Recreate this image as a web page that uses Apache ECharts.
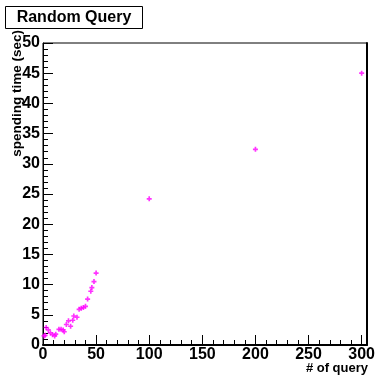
<!DOCTYPE html>
<html>
<head>
<meta charset="utf-8">
<script src="https://cdn.jsdelivr.net/npm/echarts@6/dist/echarts.min.js"></script>
<style>
    html, body { margin: 0; padding: 0; background: #fff; }
    #chart { width: 378px; height: 375px; }
</style>
</head>
<body>
<div id="chart"></div>
<script>
// 数据: 查询数 / 耗时(秒)
var queries = [1, 2, 3, 5, 7, 9, 11, 12, 15, 17, 19, 20, 22, 24, 26, 28, 29, 32, 34, 36, 38, 40, 42, 45, 46, 48, 50, 100, 200, 300];
var times = [1.5, 1.6, 2.9, 2.5, 2.0, 1.7, 1.5, 1.8, 2.6, 2.6, 2.5, 2.2, 3.4, 4.0, 3.1, 4.1, 4.8, 4.6, 5.9, 6.1, 6.2, 6.4, 7.6, 8.9, 9.5, 10.5, 11.9, 24.2, 32.4, 45.0];
var xTicks = [0, 50, 100, 150, 200, 250, 300];
var yTicks = [0, 5, 10, 15, 20, 25, 30, 35, 40, 45, 50];

var font = "'Liberation Sans', Arial, Helvetica, sans-serif";
var chart = echarts.init(document.getElementById('chart'), null, {renderer: 'canvas'});

var points = queries.map(function (q, i) {
    return [q, times[i]];
});

var plus = 'path://M-1,-3L1,-3L1,-1L3,-1L3,1L1,1L1,3L-1,3L-1,1L-3,1L-3,-1L-1,-1Z';

var option = {
    animation: false,
    backgroundColor: '#fff',
    grid: {
        left: 43, right: 10, top: 43, bottom: 30,
        show: true, borderColor: '#000', borderWidth: 1, backgroundColor: 'transparent'
    },
    xAxis: {
        type: 'value',
        min: 0,
        max: 305,
        interval: 50,
        axisLine: {show: true, lineStyle: {color: '#000', width: 2}},
        axisTick: {inside: true, length: 10, lineStyle: {color: '#000', width: 1}},
        minorTick: {show: true, splitNumber: 5, length: 5, lineStyle: {color: '#000', width: 1}},
        splitLine: {show: false},
        axisLabel: {
            color: '#000', fontFamily: font, fontWeight: 'bold', fontSize: 16, margin: 2,
            formatter: function (v) {
                return xTicks.indexOf(v) >= 0 ? String(v) : '';
            }
        }
    },
    yAxis: [{
        type: 'value',
        min: 0,
        max: 50,
        interval: 5,
        axisLine: {show: true, lineStyle: {color: '#000', width: 1}},
        axisTick: {inside: true, length: 10, lineStyle: {color: '#000', width: 1}},
        minorTick: {show: true, splitNumber: 5, length: 5, lineStyle: {color: '#000', width: 1}},
        splitLine: {show: false},
        axisLabel: {
            color: '#000', fontFamily: font, fontWeight: 'bold', fontSize: 16, margin: 3,
            formatter: function (v) {
                return yTicks.indexOf(v) >= 0 ? String(v) : '';
            }
        }
    }, {
        type: 'value',
        position: 'right',
        min: 0,
        max: 50,
        axisLine: {show: true, lineStyle: {color: '#000', width: 2}},
        axisTick: {show: false},
        axisLabel: {show: false},
        splitLine: {show: false}
    }],
    graphic: [
        {
            type: 'rect',
            shape: {x: 5.5, y: 6.5, width: 137, height: 22},
            style: {fill: '#fff', stroke: '#000', lineWidth: 1}
        },
        {
            type: 'text',
            x: 74, y: 18,
            style: {
                text: 'Random Query', fill: '#000', font: 'bold 16px ' + font,
                align: 'center', verticalAlign: 'middle'
            }
        },
        {
            type: 'text',
            x: 17, y: 30,
            rotation: Math.PI / 2,
            style: {
                text: 'spending time (sec)', fill: '#000', font: 'bold 13.5px ' + font,
                align: 'right', verticalAlign: 'middle'
            }
        },
        {
            type: 'text',
            x: 368, y: 368,
            style: {
                text: '# of query', fill: '#000', font: 'bold 13px ' + font,
                align: 'right', verticalAlign: 'middle'
            }
        }
    ],
    series: [
        {
            name: 'Random Query',
            type: 'scatter',
            symbol: plus,
            symbolSize: 5,
            itemStyle: {color: '#ff00ff'},
            data: points
        }
    ]
};
chart.setOption(option);
</script>
</body>
</html>
